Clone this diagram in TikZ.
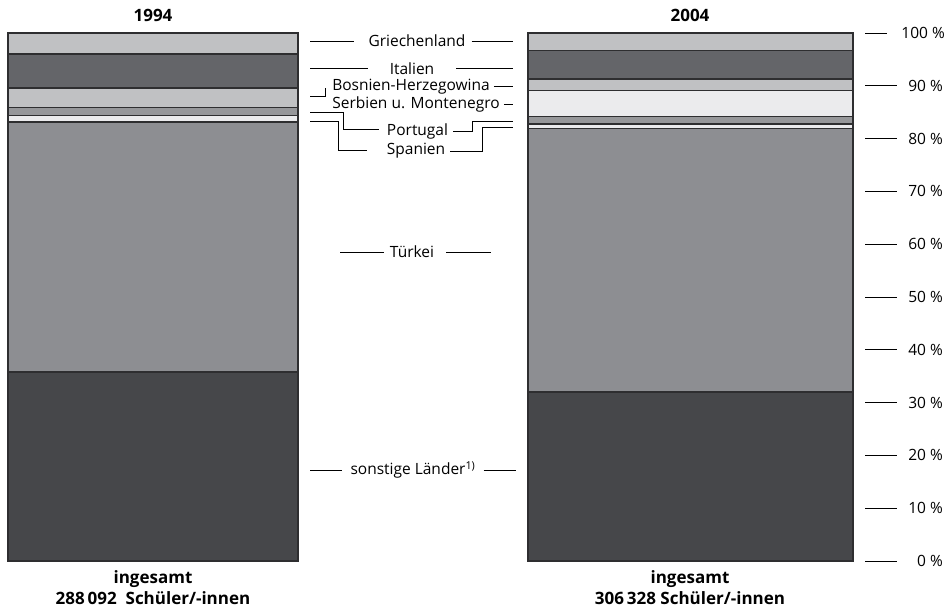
\documentclass[tikz,border=0pt]{standalone}
\usepackage{fontspec}
\setmainfont{Open Sans}
\usepackage{xcolor}
\usepackage{tikz}
\definecolor{hellgrau}{HTML}{C0C1C3}
\definecolor{dunkelgrau}{HTML}{646569}
\definecolor{mittelgrau}{HTML}{8D8E92}
\definecolor{portgrau}{HTML}{96979A}
\definecolor{sehrhell}{HTML}{EBEBED}
\definecolor{sonstgrau}{HTML}{46474A}
\definecolor{rahmen}{HTML}{2E2E30}

\begin{document}
\begin{tikzpicture}[x=1pt,y=-1pt]
\tikzstyle{every node}+=[inner sep=0pt]
\tikzstyle{band}=[draw=rahmen, line width=1.1pt]
\tikzstyle{leader}=[black, line width=0.8pt]
\tikzstyle{land}=[font=\fontsize{15.5}{17}\selectfont]
\tikzstyle{prozent}=[anchor=east, font=\fontsize{15.5}{17}\selectfont]
\tikzstyle{titel}=[font=\bfseries\fontsize{17}{21}\selectfont, align=center]
\useasboundingbox (0,0) rectangle (949,615);
% 1994
\filldraw [band, fill=sonstgrau] (8,372) rectangle (298,561);
\filldraw [band, fill=mittelgrau] (8,122) rectangle (298,372);
\filldraw [band, fill=sehrhell] (8,115.5) rectangle (298,122);
\filldraw [band, fill=portgrau] (8,107.3) rectangle (298,115.5);
\filldraw [band, fill=hellgrau] (8,88) rectangle (298,107.3);
\filldraw [band, fill=dunkelgrau] (8,54) rectangle (298,88);
\filldraw [band, fill=hellgrau] (8,33) rectangle (298,54);
% 2004
\filldraw [band, fill=sonstgrau] (528,392) rectangle (853,561);
\filldraw [band, fill=mittelgrau] (528,128.3) rectangle (853,392);
\filldraw [band, fill=sehrhell] (528,124) rectangle (853,128.3);
\filldraw [band, fill=portgrau] (528,116.7) rectangle (853,124);
\filldraw [band, fill=sehrhell] (528,90.5) rectangle (853,116.7);
\filldraw [band, fill=hellgrau] (528,79) rectangle (853,90.5);
\filldraw [band, fill=dunkelgrau] (528,50.7) rectangle (853,79);
\filldraw [band, fill=hellgrau] (528,33) rectangle (853,50.7);
% Jahre und Summen
\node [titel] (j94) at (153,15) {1994};
\node [titel] (j04) at (690,15) {2004};
\node [titel] (s94) at (153,588) {ingesamt\\288\,092\ \ Schüler/-innen};
\node [titel] (s04) at (690,588) {ingesamt\\306\,328 Schüler/-innen};
% Laender
\node [land] (gr) at (417,41) {Griechenland};
\draw [leader] (310,41) -- ([xshift=-14pt]gr.west);
\draw [leader] ([xshift=6pt]gr.east) -- (513,41);
\node [land] (it) at (412,68.3) {Italien};
\draw [leader] (310,68.3) -- ([xshift=-22pt]it.west);
\draw [leader] ([xshift=22pt]it.east) -- (513,68.3);
\node [land, fill=white, inner ysep=1pt] (bh) at (411,86.7) {Bosnien-Herzegowina};
\draw [leader] (310,96.7) -- (325,96.7) -- (325,88.3) -- ([xshift=-6pt]bh.west |- 0,88.3);
\draw [leader] ([xshift=4pt]bh.east) -- (513,86.7);
\node [land] (sm) at (416,104) {Serbien u. Montenegro};
\draw [leader] ([xshift=4pt]sm.east) -- (513,104);
\node [land] (pt) at (417.5,131.7) {Portugal};
\draw [leader] (310,112.5) -- (343,112.5) -- (343,129.5) -- ([xshift=-8pt]pt.west |- 0,129.5);
\draw [leader] ([xshift=5pt]pt.east) -- (472,131.7) -- (472,121) -- (513,121);
\node [land] (sp) at (416,151) {Spanien};
\draw [leader] (310,121.5) -- (338,121.5) -- (338,150.7) -- ([xshift=-20pt]sp.west |- 0,150.7);
\draw [leader] ([xshift=5pt]sp.east) -- (482,151) -- (482,127.7) -- (513,127.7);
\node [land] (tr) at (412,252) {Türkei};
\draw [leader] (340,252) -- ([xshift=-6pt]tr.west);
\draw [leader] ([xshift=12pt]tr.east) -- (491,252);
\node [land] (so) at (413,470) {sonstige Länder\textsuperscript{1)}};
\draw [leader] (310,470) -- ([xshift=-8pt]so.west);
\draw [leader] ([xshift=8pt]so.east) -- (516,470);
% Prozentskala
\draw [leader] (865,33) -- (887,33);
\node [prozent] (p100) at (945,33) {100 \%};
\draw [leader] (865,85.8) -- (897,85.8);
\node [prozent] (p90) at (943,85.8) {90 \%};
\draw [leader] (865,138.6) -- (897,138.6);
\node [prozent] (p80) at (943,138.6) {80 \%};
\draw [leader] (865,191.4) -- (897,191.4);
\node [prozent] (p70) at (943,191.4) {70 \%};
\draw [leader] (865,244.2) -- (897,244.2);
\node [prozent] (p60) at (943,244.2) {60 \%};
\draw [leader] (865,297) -- (897,297);
\node [prozent] (p50) at (943,297) {50 \%};
\draw [leader] (865,349.8) -- (897,349.8);
\node [prozent] (p40) at (943,349.8) {40 \%};
\draw [leader] (865,402.6) -- (897,402.6);
\node [prozent] (p30) at (943,402.6) {30 \%};
\draw [leader] (865,455.4) -- (897,455.4);
\node [prozent] (p20) at (943,455.4) {20 \%};
\draw [leader] (865,508.2) -- (897,508.2);
\node [prozent] (p10) at (943,508.2) {10 \%};
\draw [leader] (865,561) -- (897,561);
\node [prozent] (p0) at (943,561) {0 \%};
\end{tikzpicture}
\end{document}
